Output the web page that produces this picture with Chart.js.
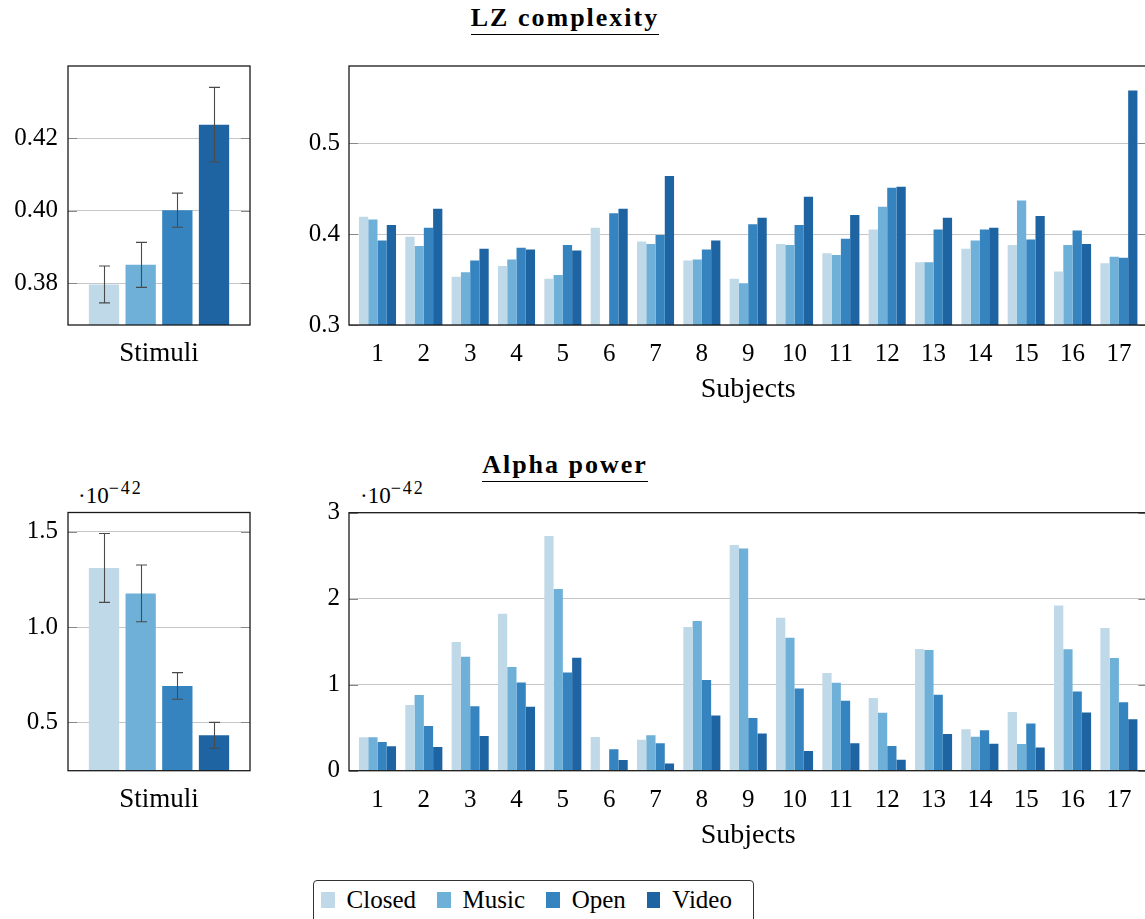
<!DOCTYPE html>
<html>
<head>
<meta charset="utf-8">
<title>LZ complexity and Alpha power</title>
<script src="https://cdn.jsdelivr.net/npm/chart.js@4.4.0/dist/chart.umd.min.js"></script>
<style>
  html, body { margin: 0; padding: 0; background: #fff; overflow: hidden; }
  body { width: 1145px; height: 919px; position: relative; font-family: "Liberation Serif", "DejaVu Serif"; color: #000; }
  canvas { position: absolute; }
  .title { position: absolute; left: 0; width: 1130px; text-align: center; font-weight: bold; font-size: 26px; line-height: 26px; letter-spacing: 2px; }
  .title span { display: inline-block; border-bottom: 1.4px solid #000; padding-bottom: 3px; }
  .expo { position: absolute; font-size: 23px; line-height: 23px; white-space: nowrap; }
  .expo span { position: relative; top: -9px; font-size: 18px; letter-spacing: 2px; }
  #legend { position: absolute; left: 313px; top: 879.5px; width: 441px; height: 60px; border: 1.3px solid #333; border-radius: 4px; box-sizing: border-box; }
  #legend .row { display: flex; align-items: center; height: 39px; padding-left: 7px; font-size: 25px; }
  #legend i { display: inline-block; width: 16px; height: 16px; margin-right: 12px; }
  #legend b { font-weight: normal; margin-right: 21px; }
</style>
</head>
<body>
<div class="title" style="top:5px"><span>LZ complexity</span></div>
<div class="title" style="top:452px"><span>Alpha power</span></div>
<div class="expo" style="left:78px; top:484px">·10<span>−42</span></div>
<div class="expo" style="left:360px; top:484px">·10<span>−42</span></div>

<canvas id="lzStim"></canvas>
<canvas id="lzSubj"></canvas>
<canvas id="alphaStim"></canvas>
<canvas id="alphaSubj"></canvas>
<div id="legend"><div class="row"></div></div>

<script>
const groups = ['Closed', 'Music', 'Open', 'Video'];
const colors = ['#c0d9e8', '#6eb0d7', '#3584c0', '#1f64a2'];
const subjects = [1, 2, 3, 4, 5, 6, 7, 8, 9, 10, 11, 12, 13, 14, 15, 16, 17];

// LZ complexity per subject
const lzClosed = [0.419, 0.397, 0.353, 0.365, 0.351, 0.407, 0.392, 0.371, 0.351, 0.389, 0.379, 0.405, 0.369, 0.384, 0.388, 0.359, 0.368];
const lzMusic  = [0.416, 0.387, 0.358, 0.372, 0.355, null,  0.389, 0.372, 0.346, 0.388, 0.377, 0.430, 0.369, 0.393, 0.437, 0.388, 0.375];
const lzOpen   = [0.393, 0.407, 0.371, 0.385, 0.388, 0.423, 0.399, 0.383, 0.411, 0.410, 0.395, 0.451, 0.405, 0.405, 0.394, 0.404, 0.374];
const lzVideo  = [0.410, 0.428, 0.384, 0.383, 0.382, 0.428, 0.464, 0.393, 0.418, 0.441, 0.421, 0.452, 0.418, 0.407, 0.420, 0.389, 0.558];

// LZ complexity per stimulus (mean, error)
const lzMean = [0.3797, 0.3851, 0.4002, 0.4238];
const lzErr  = [0.0051, 0.0062, 0.0047, 0.0103];

// Alpha power per subject (x 1e-42)
const alphaClosed = [0.388, 0.764, 1.496, 1.826, 2.729, 0.391, 0.360, 1.671, 2.624, 1.779, 1.136, 0.845, 1.415, 0.481, 0.682, 1.922, 1.659];
const alphaMusic  = [0.388, 0.880, 1.326, 1.205, 2.112, null,  0.411, 1.740, 2.585, 1.547, 1.023, 0.674, 1.403, 0.395, 0.310, 1.411, 1.310];
const alphaOpen   = [0.333, 0.519, 0.748, 1.027, 1.143, 0.248, 0.318, 1.054, 0.612, 0.957, 0.814, 0.287, 0.884, 0.469, 0.550, 0.922, 0.795];
const alphaVideo  = [0.283, 0.275, 0.403, 0.744, 1.314, 0.124, 0.085, 0.643, 0.434, 0.229, 0.318, 0.128, 0.426, 0.314, 0.271, 0.678, 0.597];

// Alpha power per stimulus (mean, error)
const alphaMean = [1.311, 1.177, 0.691, 0.432];
const alphaErr  = [0.181, 0.149, 0.070, 0.068];

// tick labels
const lzStimTicks = [0.38, 0.40, 0.42];
const lzSubjTicks = [0.3, 0.4, 0.5];
const alphaStimTicks = [0.5, 1.0, 1.5];
const alphaSubjTicks = [0, 1, 2, 3];

Chart.defaults.font.family = '"Liberation Serif", "DejaVu Serif"';
Chart.defaults.color = '#000';
Chart.defaults.animation = false;

function place(id, box) {
    const c = document.getElementById(id);
    c.width = box.w;
    c.height = box.h;
    c.style.left = box.x + 'px';
    c.style.top = box.y + 'px';
    c.style.width = box.w + 'px';
    c.style.height = box.h + 'px';
    return c;
}

function fixedTicks(values) {
    return scale => { scale.ticks = values.map(v => ({ value: v })); };
}

function yAxis(min, max, ticks, decimals, width, pad) {
    return {
        min: min,
        max: max,
        afterBuildTicks: fixedTicks(ticks),
        afterFit: s => { s.width = width; },
        grid: { color: '#c6c6c6', lineWidth: 1, drawTicks: false },
        border: { display: false },
        ticks: { font: { size: 25 }, padding: pad, callback: v => v.toFixed(decimals) }
    };
}

// box around the plot plus small inner ticks on both sides
const frame = {
    id: 'frame',
    afterDraw(chart) {
        const { ctx, chartArea: a, scales: { y } } = chart;
        ctx.save();
        ctx.strokeStyle = '#888';
        ctx.lineWidth = 1;
        y.ticks.forEach(t => {
            const py = Math.round(y.getPixelForValue(t.value)) + 0.5;
            ctx.beginPath();
            ctx.moveTo(a.left, py); ctx.lineTo(a.left + 9, py);
            ctx.moveTo(a.right, py); ctx.lineTo(a.right - 9, py);
            ctx.stroke();
        });
        ctx.strokeStyle = '#1a1a1a';
        ctx.lineWidth = 1.3;
        ctx.strokeRect(a.left, a.top, a.right - a.left, a.bottom - a.top);
        ctx.restore();
    }
};

function errorBars(err) {
    return {
        id: 'errorBars',
        afterDatasetsDraw(chart) {
            const { ctx, scales: { y } } = chart;
            ctx.save();
            ctx.strokeStyle = '#4a4a4a';
            ctx.lineWidth = 1.1;
            chart.data.datasets.forEach((ds, i) => {
                const bar = chart.getDatasetMeta(i).data[0];
                const m = ds.data[0];
                const x = Math.round(bar.x) + 0.5;
                const y1 = y.getPixelForValue(m + err[i]);
                const y2 = y.getPixelForValue(m - err[i]);
                ctx.beginPath();
                ctx.moveTo(x, y1); ctx.lineTo(x, y2);
                ctx.moveTo(x - 5.5, y1); ctx.lineTo(x + 5.5, y1);
                ctx.moveTo(x - 5.5, y2); ctx.lineTo(x + 5.5, y2);
                ctx.stroke();
            });
            ctx.restore();
        }
    };
}

function stimChart(id, box, plot, means, err, yMin, yMax, ticks, decimals) {
    const canvas = place(id, box);
    return new Chart(canvas, {
        type: 'bar',
        data: {
            labels: ['Stimuli'],
            datasets: groups.map((g, i) => ({
                label: g,
                data: [means[i]],
                backgroundColor: colors[i],
                borderWidth: 0
            }))
        },
        options: {
            responsive: false,
            categoryPercentage: 0.806,
            barPercentage: 0.826,
            layout: { padding: { top: plot.t - box.y, right: box.x + box.w - plot.r, left: 0, bottom: 0 } },
            plugins: { legend: { display: false }, tooltip: { enabled: false } },
            scales: {
                x: {
                    afterFit: s => { s.height = box.y + box.h - plot.b; },
                    grid: { display: false, drawTicks: false },
                    border: { display: false },
                    ticks: { font: { size: 27 }, padding: 13 }
                },
                y: yAxis(yMin, yMax, ticks, decimals, plot.l - box.x, 10)
            }
        },
        plugins: [frame, errorBars(err)]
    });
}

function subjChart(id, box, plot, series, yMin, yMax, ticks, decimals, titleCenter) {
    const canvas = place(id, box);
    return new Chart(canvas, {
        type: 'bar',
        data: {
            labels: subjects,
            datasets: groups.map((g, i) => ({
                label: g,
                data: series[i],
                backgroundColor: colors[i],
                borderWidth: 0
            }))
        },
        options: {
            responsive: false,
            categoryPercentage: 0.8,
            barPercentage: 1.0,
            layout: { padding: { top: plot.t - box.y, right: box.x + box.w - plot.r, left: 0, bottom: 0 } },
            plugins: { legend: { display: false }, tooltip: { enabled: false } },
            scales: {
                x: {
                    type: 'linear',
                    offset: false,
                    min: 0.385,
                    max: 17.615,
                    afterBuildTicks: fixedTicks(subjects),
                    afterFit: s => { s.height = box.y + box.h - plot.b; },
                    grid: { display: false, drawTicks: false },
                    border: { display: false },
                    ticks: { font: { size: 25 }, padding: 14.5, autoSkip: false, maxRotation: 0, callback: v => String(v) },
                    title: {
                        display: true,
                        text: 'Subjects',
                        font: { size: 28 },
                        padding: { top: 0, bottom: box.y + box.h - titleCenter - 16.8 }
                    }
                },
                y: yAxis(yMin, yMax, ticks, decimals, plot.l - box.x, 9)
            }
        },
        plugins: [frame]
    });
}

stimChart('lzStim', { x: 0, y: 40, w: 260, h: 380 }, { l: 68, t: 66, r: 250, b: 325 },
    lzMean, lzErr, 0.3685, 0.440, lzStimTicks, 2);

subjChart('lzSubj', { x: 270, y: 40, w: 885, h: 380 }, { l: 349, t: 66, r: 1147.4, b: 325 },
    [lzClosed, lzMusic, lzOpen, lzVideo], 0.3, 0.585, lzSubjTicks, 1, 389.5);

stimChart('alphaStim', { x: 0, y: 480, w: 260, h: 380 }, { l: 68, t: 512.5, r: 250, b: 770.7 },
    alphaMean, alphaErr, 0.246, 1.602, alphaStimTicks, 1);

subjChart('alphaSubj', { x: 270, y: 480, w: 885, h: 380 }, { l: 349, t: 512.7, r: 1147.4, b: 770.7 },
    [alphaClosed, alphaMusic, alphaOpen, alphaVideo], 0, 3, alphaSubjTicks, 0, 835.2);

// shared legend
const row = document.querySelector('#legend .row');
groups.forEach((g, i) => {
    const sw = document.createElement('i');
    sw.style.background = colors[i];
    const label = document.createElement('b');
    label.textContent = g;
    row.appendChild(sw);
    row.appendChild(label);
});
</script>
</body>
</html>
